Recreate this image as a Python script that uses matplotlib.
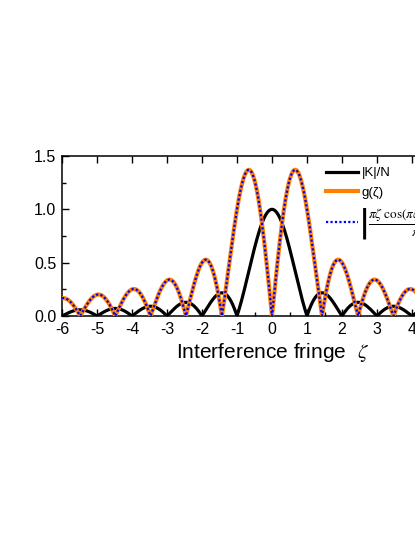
"""Diffraction envelope |K|/N and the fringe function g(zeta)."""

import numpy as np
import matplotlib

matplotlib.use("Agg")
import matplotlib.pyplot as plt
from matplotlib.ticker import MultipleLocator

plt.rcParams["font.family"] = ["Liberation Sans", "DejaVu Sans"]
plt.rcParams["mathtext.fontset"] = "stix"

# the curves are the analytic functions named in the legend
X_MIN, X_MAX = -6.0, 6.0
zeta = np.linspace(X_MIN, X_MAX, 4801)
k_over_n = np.abs(np.sinc(zeta))
with np.errstate(divide="ignore", invalid="ignore"):
    g_zeta = np.abs(np.pi * zeta * np.cos(np.pi * zeta) - np.sin(np.pi * zeta)) / (np.pi * zeta**2)
g_zeta[np.isnan(g_zeta)] = 0.0

Y_TICKS = [0.0, 0.5, 1.0, 1.5]
X_TICKS = [-6, -5, -4, -3, -2, -1, 0, 1, 2, 3, 4, 5, 6]

fig = plt.figure(figsize=(4.15, 5.37), dpi=100)
# axes run past the right edge of the figure, as in the cropped original
ax = fig.add_axes([62 / 415, 1 - 316 / 537, 420 / 415, 160 / 537])

ax.plot(zeta, k_over_n, color="black", lw=2.3, label="|K|/N", zorder=3)
ax.plot(zeta, g_zeta, color="#FF8000", lw=3.0, label="g(ζ)", zorder=4)
ax.plot(zeta, g_zeta, color="#0000FF", lw=1.6, ls=(0, (1, 1)),
        label=r"$\!\!\left|\dfrac{\pi\zeta\ \cos(\pi\zeta)-\sin(\pi\zeta)}{\pi\zeta^2}\right|$", zorder=5)

ax.set_xlim(X_MIN, X_MAX)
ax.set_ylim(0, 1.5)
ax.set_xticks(X_TICKS)
ax.set_xticklabels([str(t) for t in X_TICKS])
ax.set_yticks(Y_TICKS)
ax.set_yticklabels([f"{t:.1f}" for t in Y_TICKS])
ax.xaxis.set_minor_locator(MultipleLocator(0.5))
ax.yaxis.set_minor_locator(MultipleLocator(0.25))
ax.tick_params(which="both", direction="in", top=True, right=True, width=1.0,
               labelsize=11.5, pad=4)
ax.tick_params(which="major", length=5)
ax.tick_params(which="minor", length=3)
ax.tick_params(axis="x", which="minor", top=False)
for s in ax.spines.values():
    s.set_linewidth(1.1)

ax.set_xlabel("Interference fringe  $\\zeta$", fontsize=15, labelpad=3)

ax.legend(loc="upper left", bbox_to_anchor=(326 / 415, 1 - 167 / 537),
          bbox_transform=fig.transFigure, frameon=False, fontsize=9.5,
          borderpad=0, borderaxespad=0, handlelength=2.4, handletextpad=0.3,
          labelspacing=0.55)

fig.savefig("out.png", dpi=100)
